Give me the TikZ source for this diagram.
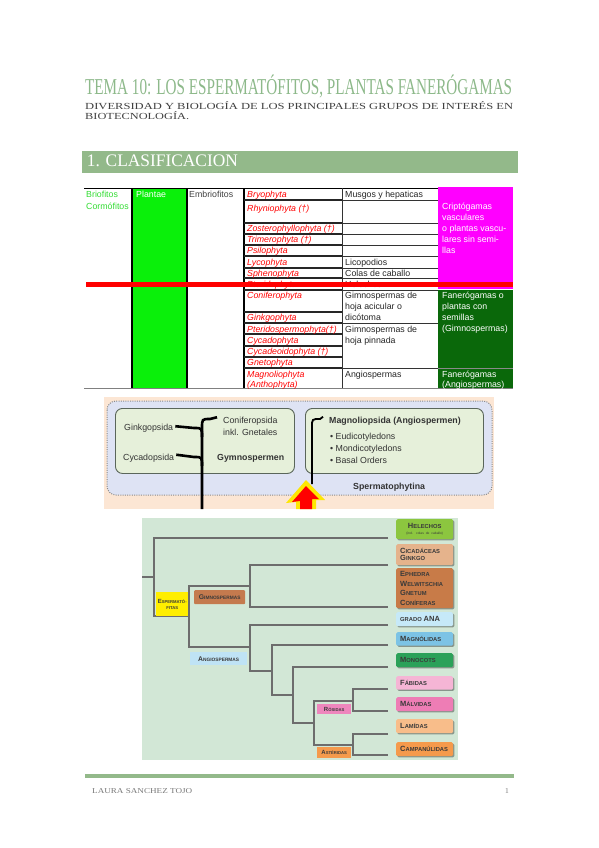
\documentclass[tikz,border=0pt]{standalone}
\usepackage{fontspec}
\setmainfont{Liberation Serif}
\setsansfont{Liberation Sans}
\usetikzlibrary{shadows}
\definecolor{titgreen}{HTML}{8DB98A}
\definecolor{barg}{HTML}{93B98A}
\definecolor{subgray}{HTML}{404040}
\definecolor{brgreen}{HTML}{33DD33}
\definecolor{plgreen}{HTML}{0AF00A}
\definecolor{mag}{HTML}{FF00FF}
\definecolor{dkgreen}{HTML}{0A680A}
\definecolor{peach}{HTML}{FCE6D4}
\definecolor{lav}{HTML}{DEE3F4}
\definecolor{boxg}{HTML}{E6F0DA}
\definecolor{boxedge}{HTML}{5A665A}
\definecolor{dotgray}{HTML}{8A8A8A}
\definecolor{figtext}{HTML}{333333}
\definecolor{cladbg}{HTML}{D2E7D6}
\definecolor{treegray}{HTML}{6D6D6D}
\definecolor{labtext}{HTML}{3A3A3A}
\definecolor{helg}{HTML}{8CC63F}
\definecolor{cica}{HTML}{E5B38C}
\definecolor{ephe}{HTML}{C87B48}
\definecolor{ana}{HTML}{C6E9F8}
\definecolor{magn}{HTML}{7CC3E5}
\definecolor{mono}{HTML}{2BA159}
\definecolor{fabi}{HTML}{F5B5D5}
\definecolor{malv}{HTML}{EE7DB5}
\definecolor{lami}{HTML}{F8BD8A}
\definecolor{camp}{HTML}{F59A4C}
\definecolor{espy}{HTML}{FFEE00}
\definecolor{angb}{HTML}{BFE3F5}
\definecolor{rosp}{HTML}{EE86BD}
\definecolor{gimb}{HTML}{C47A4E}
\definecolor{footgray}{HTML}{7A7A7A}
\newcommand\mysc[3][7.5]{{\fontsize{#1}{9.5}\selectfont #2}#3}
\begin{document}
\begin{tikzpicture}[x=1pt,y=-1pt,
  tx/.style={anchor=base west, inner sep=0pt, font=\sffamily\fontsize{8.8}{9}\selectfont},
  ktx/.style={tx, text=black!85},
  rtx/.style={tx, text=red, font=\sffamily\itshape\fontsize{8.8}{9}\selectfont},
  wtx/.style={tx, text=white},
  gtx/.style={anchor=base west, inner sep=0pt, text=figtext, font=\sffamily\fontsize{8.8}{10}\selectfont},
  btx/.style={gtx, font=\sffamily\bfseries\fontsize{8.8}{10}\selectfont},
  tree/.style={draw=treegray, line width=1.2pt},
  gbox/.style={draw=boxedge, fill=boxg, line width=0.9pt, rounded corners=7pt, inner sep=0pt, anchor=north west},
  lbox/.style={anchor=north west, rounded corners=1.5pt, inner ysep=0pt, inner xsep=4pt, text width=49pt, align=left, text=labtext, font=\sffamily\bfseries\fontsize{5.8}{9.5}\selectfont, drop shadow={shadow xshift=1.2pt, shadow yshift=-1.2pt, fill=black, opacity=0.35}},
  ilab/.style={anchor=north west, inner sep=0pt, text=labtext, align=center, font=\sffamily\bfseries\fontsize{4.8}{6}\selectfont}
]
\useasboundingbox (0,0) rectangle (599,848);
\fill[white] (0,0) rectangle (599,848);

% ---------- header ----------
\node[anchor=base west, inner sep=0pt, text=titgreen] (title) at (85,95)
  {\resizebox{427pt}{\height}{\fontsize{22.7}{24}\selectfont TEMA 10: LOS ESPERMATÓFITOS, PLANTAS FANERÓGAMAS}};
\node[anchor=base west, inner sep=0pt, text=subgray] (sub1) at (85,110)
  {\resizebox{428pt}{\height}{\fontsize{9.3}{10}\selectfont DIVERSIDAD Y BIOLOGÍA DE LOS PRINCIPALES GRUPOS DE INTERÉS EN}};
\node[anchor=base west, inner sep=0pt, text=subgray] (sub2) at (85,119.5)
  {\resizebox{104pt}{\height}{\fontsize{9.3}{10}\selectfont BIOTECNOLOGÍA.}};
\fill[barg] (81.5,151) rectangle (518,173.3);
\node[anchor=base west, inner sep=0pt, text=white] (sec) at (86.7,166.7)
  {\resizebox{151pt}{\height}{\fontsize{17.6}{18}\selectfont 1. CLASIFICACION}};

% ---------- table ----------
\fill[plgreen] (132,188) rectangle (187,388);
\fill[mag] (438,187) rectangle (513,289);
\fill[dkgreen] (438,290) rectangle (513,388);
\draw[dotgray, line width=0.5pt] (438,368) -- (513,368);
\draw[line width=0.8pt] (84,188) -- (438,188);
\draw[line width=1.3pt] (132,188) -- (132,388);
\draw[line width=1.3pt] (187,188) -- (187,388);
\draw[line width=1.6pt] (244,188) -- (244,388);
\draw[line width=0.9pt, black!80] (342,188) -- (342,388);
\foreach \yy in {200,223,234,245,256,268,278,290,312,323,334,346,357,368}
  \draw[line width=1.1pt, black!85] (244,\yy) -- (342,\yy);
\foreach \yy in {200,223,234,245,256,268,278,290,323,368}
  \draw[line width=1.0pt, black!80] (342,\yy) -- (438,\yy);
\draw[gray, line width=0.8pt] (84,388) -- (513,388);

\node[tx, text=brgreen] (c1a) at (86,197) {Briofitos};
\node[tx, text=brgreen] (c1b) at (86,209.5) {Cormófitos};
\node[wtx] (c2) at (136,197) {Plantae};
\node[tx, text=subgray] (c3) at (189,197) {Embriofitos};

\begin{scope}
\clip (245,188) rectangle (341,389);
\node[rtx] (r1) at (247,197) {Bryophyta};
\node[rtx] (r2) at (247,211) {Rhyniophyta (†)};
\node[rtx] (r3) at (247,231.5) {Zosterophyllophyta (†)};
\node[rtx] (r4) at (247,242.5) {Trimerophyta (†)};
\node[rtx] (r5) at (247,253.5) {Psilophyta};
\node[rtx] (r6) at (247,265.5) {Lycophyta};
\node[rtx] (r7) at (247,276.5) {Sphenophyta};
\node[rtx] (r8) at (247,287.5) {Pteridophyta};
\node[rtx] (r9) at (247,298.5) {Coniferophyta};
\node[rtx] (r10) at (247,320.5) {Ginkgophyta};
\node[rtx] (r11) at (247,332) {Pteridospermophyta(†)};
\node[rtx] (r12) at (247,343.5) {Cycadophyta};
\node[rtx] (r13) at (247,354.5) {Cycadeoidophyta (†)};
\node[rtx] (r14) at (247,365.5) {Gnetophyta};
\node[rtx] (r15) at (247,377) {Magnoliophyta};
\node[rtx] (r16) at (247,387) {(Anthophyta)};
\end{scope}

\node[ktx] (d1) at (345,197) {Musgos y hepaticas};
\node[ktx] (d2) at (345,265.5) {Licopodios};
\node[ktx] (d3) at (345,276.5) {Colas de caballo};
\node[ktx] (d4) at (345,287.5) {Helechos};
\node[ktx] (d5) at (345,298.5) {Gimnospermas de};
\node[ktx] (d6) at (345,309.5) {hoja acicular o};
\node[ktx] (d7) at (345,320.5) {dicótoma};
\node[ktx] (d8) at (345,332) {Gimnospermas de};
\node[ktx] (d9) at (345,343.5) {hoja pinnada};
\node[ktx] (d10) at (345,377) {Angiospermas};

\node[wtx] (m1) at (442,209.5) {Criptógamas};
\node[wtx] (m2) at (442,220.5) {vasculares};
\node[wtx] (m3) at (442,231.5) {o plantas vascu-};
\node[wtx] (m4) at (442,242.5) {lares sin semi-};
\node[wtx] (m5) at (442,253.5) {llas};
\node[wtx] (g1) at (442,298.5) {Fanerógamas o};
\node[wtx] (g2) at (442,309.5) {plantas con};
\node[wtx] (g3) at (442,320.5) {semillas};
\node[wtx] (g4) at (442,331.5) {(Gimnospermas)};
\node[wtx] (g5) at (442,377) {Fanerógamas};
\node[wtx] (g6) at (442,387) {(Angiospermas)};

\fill[red] (86,282) rectangle (513,287);

% ---------- spermatophytina figure ----------
\fill[peach] (104,397) rectangle (494,509);
\draw[fill=lav, draw=dotgray, line width=1pt, dash pattern=on 1pt off 1.3pt, rounded corners=9pt] (107,401) rectangle (492,495);
\node[gbox, minimum width=179pt, minimum height=65pt] (gbl) at (115,408) {};
\node[gbox, minimum width=178pt, minimum height=65pt] (gbr) at (305,408) {};
\node[gtx] (gink) at (124,430) {Ginkgopsida};
\node[gtx] (cyca) at (123,460) {Cycadopsida};
\node[gtx] (coni) at (223,423) {Coniferopsida};
\node[gtx] (inkl) at (223,435) {inkl. Gnetales};
\node[btx] (gymn) at (217,460) {Gymnospermen};
\node[btx] (magn) at (329,423.5) {Magnoliopsida (Angiospermen)};
\node[gtx] (eud) at (330,439) {\textbullet\ Eudicotyledons};
\node[gtx] (mond) at (330,451) {\textbullet\ Mondicotyledons};
\node[gtx] (basal) at (330,463) {\textbullet\ Basal Orders};
\node[btx] (sperm) at (353,489) {Spermatophytina};
\draw[line width=2.6pt] (gink.east) ++(2,-1.5) -- (194,428) .. controls (202,428) .. (202,437);
\draw[line width=2.6pt] (cyca.east) ++(2,-3) -- (194,457) .. controls (202,457) .. (202,466);
\draw[line width=2.6pt] (coni.west) ++(-6,-3.5) -- (210,419) .. controls (202,419) .. (202,428) -- (202,509);
\draw[line width=1.8pt] (magn.west) ++(-6,-4.5) -- (320,419) .. controls (312,419) .. (312,427) -- (312,484);
% arrow
\fill[yellow!90!orange] (306,480) -- (325,500) -- (316,500) -- (316,509) -- (296,509) -- (296,502) -- (286,503) -- cycle;
\fill[red] (306,486) -- (319,499) -- (312,499) -- (312,509) -- (300,509) -- (300,501) -- (292,502) -- cycle;

% ---------- cladogram ----------
\fill[cladbg] (142,518) rectangle (458,760);
\draw[tree] (142,577) -- (154,577);
\draw[tree] (388,538) -- (154,538) -- (154,616) -- (189,616);
\draw[tree] (250,586) -- (189,586) -- (189,647) -- (250,647);
\draw[tree] (388,565) -- (250,565) -- (250,607) -- (388,607);
\draw[tree] (388,625) -- (250,625) -- (250,671) -- (272,671);
\draw[tree] (388,645) -- (272,645) -- (272,695) -- (293,695);
\draw[tree] (388,667) -- (293,667) -- (293,723) -- (314,723);
\draw[tree] (353,701) -- (314,701) -- (314,745) -- (353,745);
\draw[tree] (388,689) -- (353,689) -- (353,711) -- (388,711);
\draw[tree] (388,734) -- (353,734) -- (353,755) -- (388,755);

\node[lbox, fill=helg, minimum height=20pt, align=center] (hel) at (396,519)
  {\mysc{H}{ELECHOS}\\[-3.5pt]{\mdseries\fontsize{3.3}{4}\selectfont (incl. colas de caballo)}};
\node[lbox, fill=cica, minimum height=21pt] (cic) at (396,544)
  {\mysc{C}{ICADÁCEAS}\\[-2.5pt]\mysc{G}{INKGO}};
\node[lbox, fill=ephe, minimum height=40pt] (eph) at (396,568)
  {\mysc{E}{PHEDRA}\\\mysc{W}{ELWITSCHIA}\\\mysc{G}{NETUM}\\\mysc{C}{ONÍFERAS}};
\node[lbox, fill=ana, minimum height=14pt] (ana) at (396,612)
  {GRADO {\fontsize{7.5}{9.5}\selectfont ANA}};
\node[lbox, fill=magn, minimum height=13.5pt] (mag) at (396,632) {\mysc{M}{AGNÓLIDAS}};
\node[lbox, fill=mono, minimum height=14pt] (mon) at (396,653) {\mysc{M}{ONOCOTS}};
\node[lbox, fill=fabi, minimum height=13.5pt] (fab) at (396,676) {\mysc{F}{ÁBIDAS}};
\node[lbox, fill=malv, minimum height=14pt] (mal) at (396,697) {\mysc{M}{ÁLVIDAS}};
\node[lbox, fill=lami, minimum height=14pt] (lam) at (396,719) {\mysc{L}{AMÍDAS}};
\node[lbox, fill=camp, minimum height=14pt] (cam) at (396,742) {\mysc{C}{AMPANÚLIDAS}};

\node[ilab, fill=espy, minimum width=32pt, minimum height=24pt, font=\sffamily\bfseries\fontsize{4.2}{6}\selectfont] (esp) at (156,592)
  {\mysc[6]{E}{SPERMATÓ-}\\FITAS};
\node[ilab, fill=gimb, rounded corners=1pt, minimum width=51pt, minimum height=14pt] (gim) at (194,590) {\mysc[6.8]{G}{IMNOSPERMAS}};
\node[ilab, fill=angb, minimum width=57pt, minimum height=13pt] (ang) at (190,652) {\mysc[6.8]{A}{NGIOSPERMAS}};
\node[ilab, fill=rosp, minimum width=34pt, minimum height=10pt, font=\sffamily\bfseries\fontsize{4.2}{6}\selectfont] (ros) at (317,704) {\mysc[6]{R}{ÓSIDAS}};
\node[ilab, fill=camp, minimum width=34pt, minimum height=11pt, font=\sffamily\bfseries\fontsize{4.2}{6}\selectfont] (ast) at (317,747) {\mysc[6]{A}{STÉRIDAS}};

% ---------- footer ----------
\fill[barg] (85,774) rectangle (514,778);
\node[anchor=base west, inner sep=0pt, text=footgray] (auth) at (92,793.5)
  {\resizebox{100pt}{\height}{\fontsize{7.5}{8}\selectfont LAURA SANCHEZ TOJO}};
\node[anchor=base west, inner sep=0pt, text=footgray, font=\fontsize{7.5}{8}\selectfont] (pg) at (505,793.5) {1};
\end{tikzpicture}
\end{document}
